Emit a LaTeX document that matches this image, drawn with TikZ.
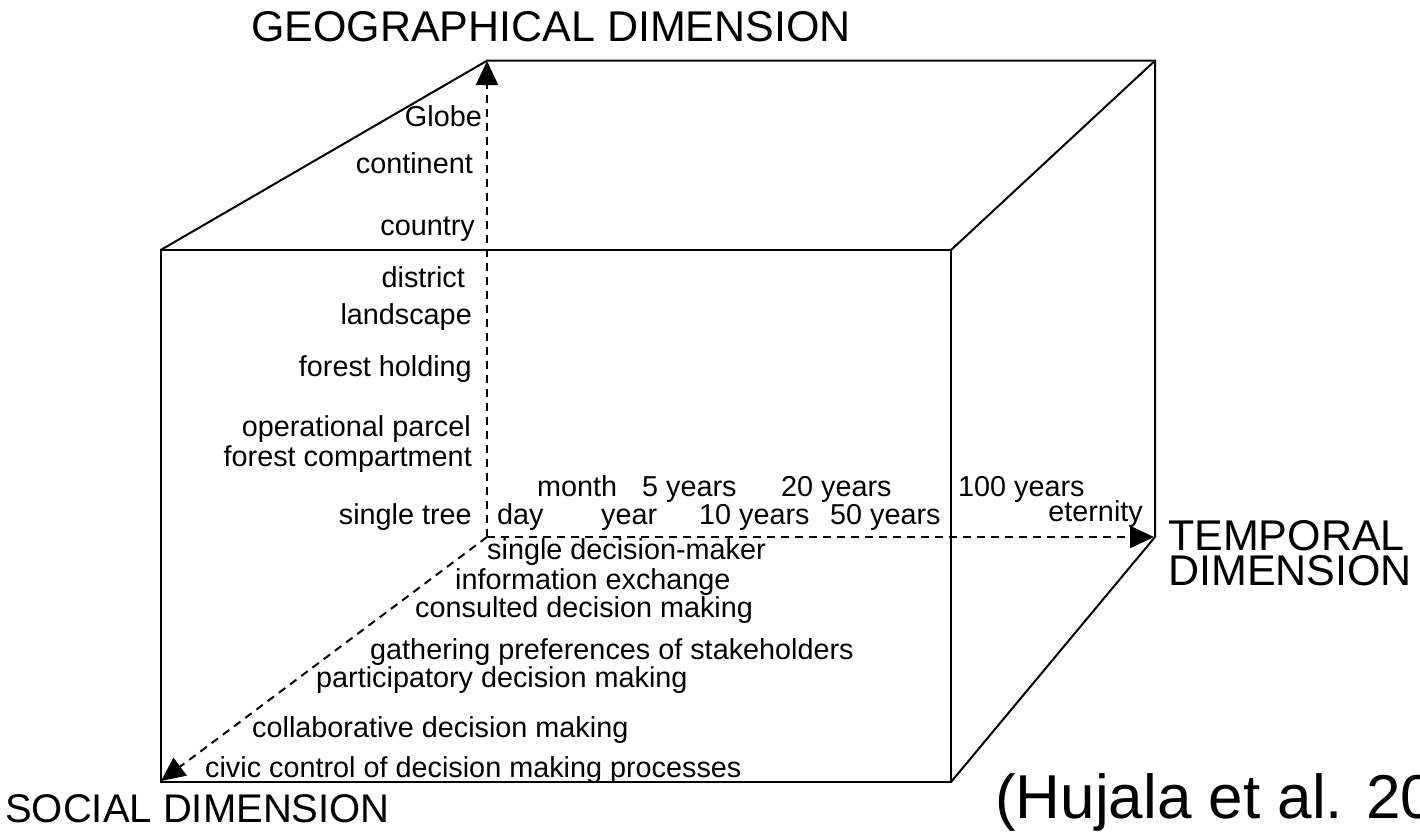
\documentclass[tikz,border=0pt]{standalone}
\usepackage{fontspec}
\setmainfont{Liberation Sans}
\usetikzlibrary{arrows.meta}
\begin{document}
\begin{tikzpicture}[x=1pt,y=-1pt,
  edge/.style={line width=2pt},
  axisline/.style={line width=2pt, dash pattern=on 8pt off 6pt, -{Triangle[length=24pt,width=22pt]}},
  lbl/.style={font=\fontsize{28.8}{34}\selectfont, inner sep=0pt},
  dimlbl/.style={font=\fontsize{43}{50}\selectfont, inner sep=0pt},
  citelbl/.style={font=\fontsize{62}{70}\selectfont, inner sep=0pt}]
\useasboundingbox (0,0) rectangle (1420,835);
% corners
\coordinate (ftl) at (160.7,250);
\coordinate (ftr) at (951,250);
\coordinate (fbl) at (160.7,782);
\coordinate (fbr) at (951,782);
\coordinate (btl) at (487,60.7);
\coordinate (btr) at (1155,60.7);
\coordinate (bbr) at (1155,537);
\coordinate (o) at (487,537);
\coordinate (gtip) at (487,61);
\coordinate (ttip) at (1154,537);
\coordinate (stip) at (161,781);
% cube
\draw[edge] (ftl) rectangle (fbr);
\draw[edge] (ftl) -- (btl) -- (btr) -- (bbr) -- (fbr);
\draw[edge] (ftr) -- (btr);
% axes
\draw[axisline] (o) -- (gtip);
\draw[axisline] (o) -- (ttip);
\draw[axisline] (o) -- (stip);
% geographical labels
\node[lbl, anchor=base east] (g1) at (482,126) {Globe};
\node[lbl, anchor=base east] (g2) at (473,173) {continent};
\node[lbl, anchor=base east] (g3) at (475,235) {country};
\node[lbl, anchor=base east] (g4) at (465,287) {district};
\node[lbl, anchor=base east] (g5) at (472,324) {landscape};
\node[lbl, anchor=base east] (g6) at (472,376) {forest holding};
\node[lbl, anchor=base east] (g7) at (471,436) {operational parcel};
\node[lbl, anchor=base east] (g8) at (472,466) {forest compartment};
\node[lbl, anchor=base east] (g9) at (472,524) {single tree};
% temporal labels
\node[lbl, anchor=base west] (t1) at (537,496) {month};
\node[lbl, anchor=base west] (t2) at (642,496) {5 years};
\node[lbl, anchor=base west] (t3) at (781,496) {20 years};
\node[lbl, anchor=base west] (t4) at (958,496) {100 years};
\node[lbl, anchor=base west] (t5) at (497,524) {day};
\node[lbl, anchor=base west] (t6) at (601,524) {year};
\node[lbl, anchor=base west] (t7) at (699,524) {10 years};
\node[lbl, anchor=base west] (t8) at (830,524) {50 years};
\node[lbl, anchor=base east] (t9) at (1143,521) {eternity};
% social labels
\node[lbl, anchor=base west] (s1) at (487,559) {single decision-maker};
\node[lbl, anchor=base west] (s2) at (455,589) {information exchange};
\node[lbl, anchor=base west] (s3) at (415,617) {consulted decision making};
\node[lbl, anchor=base west] (s4) at (370,659) {gathering preferences of stakeholders};
\node[lbl, anchor=base west] (s5) at (316,687) {participatory decision making};
\node[lbl, anchor=base west] (s6) at (252,737) {collaborative decision making};
\node[lbl, anchor=base west] (s7) at (205,777) {civic control of decision making processes};
% dimension labels
\node[dimlbl, anchor=base] (gd) at (551,41) {GEOGRAPHICAL DIMENSION};
\node[dimlbl, anchor=base west, text height=31pt, text depth=0pt] (td1) at (1168,550) {TEMPORAL};
\node[dimlbl, anchor=base west, text height=31pt, text depth=0pt] (td2) at (1168,585) {DIMENSION};
\node[dimlbl, font=\fontsize{40}{40}\selectfont, anchor=base west] (sd) at (5,822) {SOCIAL DIMENSION};
\node[citelbl, anchor=base west] (cite) at (995,818) {(Hujala et al. 20};
\end{tikzpicture}
\end{document}
